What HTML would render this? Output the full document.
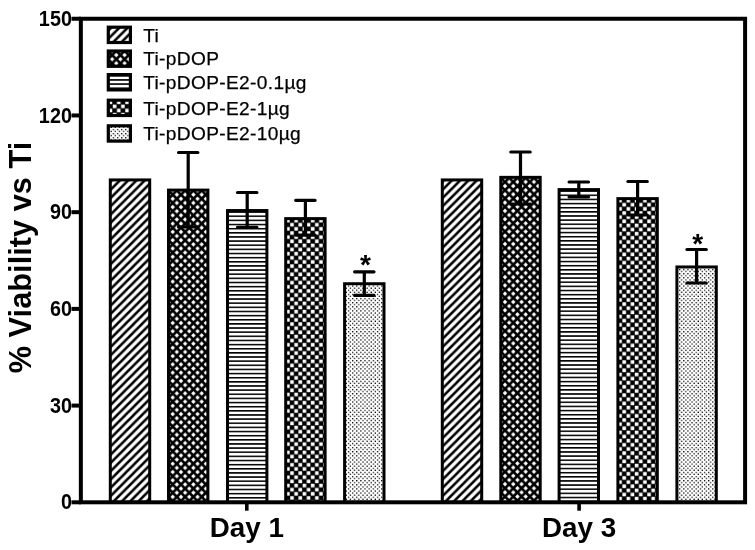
<!DOCTYPE html>
<html lang="en">
<head>
<meta charset="utf-8">
<title>% Viability vs Ti</title>
<style>
html,body{margin:0;padding:0;background:#fff;}
body{width:755px;height:550px;overflow:hidden;}
svg{display:block;}
text{font-family:"Liberation Sans",Arial,sans-serif;fill:#000;}
.b{font-weight:bold;}
</style>
</head>
<body>
<svg width="755" height="550" viewBox="0 0 755 550">
<defs>
<pattern id="b0" width="8.28" height="8.28" patternUnits="userSpaceOnUse" x="108.8" y="191.53"><rect width="8.28" height="8.28" fill="#fff"/><path d="M-8.28,8.28 L8.28,-8.28 M0,8.28 L8.28,0 M0,16.56 L16.56,0" stroke="#000" stroke-width="2.55" stroke-linecap="square"/></pattern>
<pattern id="b1" width="8.28" height="8.28" patternUnits="userSpaceOnUse" x="172.7" y="198.79"><rect width="8.28" height="8.28" fill="#000"/><path d="M4.14,1.94 L6.34,4.14 L4.14,6.34 L1.94,4.14 Z M0,-2.2 L2.2,0 L0,2.2 L-2.2,0 Z M8.28,-2.2 L10.48,0 L8.28,2.2 L6.08,0 Z M0,6.08 L2.2,8.28 L0,10.48 L-2.2,8.28 Z M8.28,6.08 L10.48,8.28 L8.28,10.48 L6.08,8.28 Z " fill="#fff"/></pattern>
<pattern id="b2" width="8.28" height="4.14" patternUnits="userSpaceOnUse" x="226" y="215.46"><rect width="8.28" height="4.14" fill="#fff"/><rect width="8.28" height="1.55" fill="#000"/></pattern>
<pattern id="b3" width="8.28" height="8.28" patternUnits="userSpaceOnUse" x="289.94" y="222.66"><rect width="8.28" height="8.28" fill="#000"/><rect x="0.26" y="0.26" width="3.6" height="3.6" fill="#fff"/><rect x="4.4" y="4.4" width="3.6" height="3.6" fill="#fff"/></pattern>
<pattern id="b4" width="4.14" height="4.14" patternUnits="userSpaceOnUse" x="0.08" y="3.96"><rect width="4.14" height="4.14" fill="#fff"/><rect x="0" y="0" width="1.25" height="1.25" fill="#000"/><rect x="2.07" y="2.07" width="1.25" height="1.25" fill="#000"/></pattern>
<pattern id="b5" width="8.28" height="8.28" patternUnits="userSpaceOnUse" x="440.8" y="191.53"><rect width="8.28" height="8.28" fill="#fff"/><path d="M-8.28,8.28 L8.28,-8.28 M0,8.28 L8.28,0 M0,16.56 L16.56,0" stroke="#000" stroke-width="2.55" stroke-linecap="square"/></pattern>
<pattern id="b6" width="8.28" height="8.28" patternUnits="userSpaceOnUse" x="505" y="186.05"><rect width="8.28" height="8.28" fill="#000"/><path d="M4.14,1.94 L6.34,4.14 L4.14,6.34 L1.94,4.14 Z M0,-2.2 L2.2,0 L0,2.2 L-2.2,0 Z M8.28,-2.2 L10.48,0 L8.28,2.2 L6.08,0 Z M0,6.08 L2.2,8.28 L0,10.48 L-2.2,8.28 Z M8.28,6.08 L10.48,8.28 L8.28,10.48 L6.08,8.28 Z " fill="#fff"/></pattern>
<pattern id="b7" width="8.28" height="4.14" patternUnits="userSpaceOnUse" x="557.6" y="194.5"><rect width="8.28" height="4.14" fill="#fff"/><rect width="8.28" height="1.55" fill="#000"/></pattern>
<pattern id="b8" width="8.28" height="8.28" patternUnits="userSpaceOnUse" x="622.14" y="202.67"><rect width="8.28" height="8.28" fill="#000"/><rect x="0.26" y="0.26" width="3.6" height="3.6" fill="#fff"/><rect x="4.4" y="4.4" width="3.6" height="3.6" fill="#fff"/></pattern>
<pattern id="b9" width="4.14" height="4.14" patternUnits="userSpaceOnUse" x="0.08" y="3.96"><rect width="4.14" height="4.14" fill="#fff"/><rect x="0" y="0" width="1.25" height="1.25" fill="#000"/><rect x="2.07" y="2.07" width="1.25" height="1.25" fill="#000"/></pattern>
<pattern id="l0" width="8.28" height="8.28" patternUnits="userSpaceOnUse" x="119" y="36.4"><rect width="8.28" height="8.28" fill="#fff"/><path d="M-8.28,8.28 L8.28,-8.28 M0,8.28 L8.28,0 M0,16.56 L16.56,0" stroke="#000" stroke-width="2.55" stroke-linecap="square"/></pattern>
<pattern id="l1" width="8.28" height="8.28" patternUnits="userSpaceOnUse" x="116.3" y="55.05"><rect width="8.28" height="8.28" fill="#000"/><path d="M4.14,1.94 L6.34,4.14 L4.14,6.34 L1.94,4.14 Z M0,-2.2 L2.2,0 L0,2.2 L-2.2,0 Z M8.28,-2.2 L10.48,0 L8.28,2.2 L6.08,0 Z M0,6.08 L2.2,8.28 L0,10.48 L-2.2,8.28 Z M8.28,6.08 L10.48,8.28 L8.28,10.48 L6.08,8.28 Z " fill="#fff"/></pattern>
<pattern id="l2" width="8.28" height="4.14" patternUnits="userSpaceOnUse" x="0" y="83.3"><rect width="8.28" height="4.14" fill="#fff"/><rect width="8.28" height="1.55" fill="#000"/></pattern>
<pattern id="l3" width="8.28" height="8.28" patternUnits="userSpaceOnUse" x="116.7" y="108.45"><rect width="8.28" height="8.28" fill="#000"/><rect x="0.26" y="0.26" width="3.6" height="3.6" fill="#fff"/><rect x="4.4" y="4.4" width="3.6" height="3.6" fill="#fff"/></pattern>
<pattern id="l4" width="4.14" height="4.14" patternUnits="userSpaceOnUse" x="121" y="133"><rect width="4.14" height="4.14" fill="#fff"/><rect x="0" y="0" width="1.25" height="1.25" fill="#000"/><rect x="2.07" y="2.07" width="1.25" height="1.25" fill="#000"/></pattern>
</defs>
<rect width="755" height="550" fill="#fff"/>
<rect x="110.3" y="179.93" width="39.4" height="322.37" fill="url(#b0)" stroke="#000" stroke-width="3.0"/>
<rect x="168.5" y="190.09" width="39.4" height="312.21" fill="url(#b1)" stroke="#000" stroke-width="3.0"/>
<path d="M188.2,152.5 L188.2,227.0 M178.5,152.5 L197.9,152.5 M178.5,227.0 L197.9,227.0" stroke="#000" stroke-width="3.2" stroke-linecap="round" fill="none"/>
<rect x="227.5" y="210.56" width="39.4" height="291.74" fill="url(#b2)" stroke="#000" stroke-width="3.0"/>
<path d="M247.2,192.5 L247.2,227.3 M237.5,192.5 L256.9,192.5 M237.5,227.3 L256.9,227.3" stroke="#000" stroke-width="3.2" stroke-linecap="round" fill="none"/>
<rect x="285.7" y="218.62" width="39.4" height="283.68" fill="url(#b3)" stroke="#000" stroke-width="3.0"/>
<path d="M305.4,200.3 L305.4,235.2 M295.7,200.3 L315.1,200.3 M295.7,235.2 L315.1,235.2" stroke="#000" stroke-width="3.2" stroke-linecap="round" fill="none"/>
<rect x="344.6" y="283.74" width="39.4" height="218.56" fill="url(#b4)" stroke="#000" stroke-width="3.0"/>
<path d="M364.3,271.8 L364.3,295.3 M354.6,271.8 L374,271.8 M354.6,295.3 L374,295.3" stroke="#000" stroke-width="3.2" stroke-linecap="round" fill="none"/>
<rect x="442.3" y="179.93" width="39.4" height="322.37" fill="url(#b5)" stroke="#000" stroke-width="3.0"/>
<rect x="500.8" y="177.35" width="39.4" height="324.95" fill="url(#b6)" stroke="#000" stroke-width="3.0"/>
<path d="M520.5,152.0 L520.5,204.0 M510.8,152.0 L530.2,152.0 M510.8,204.0 L530.2,204.0" stroke="#000" stroke-width="3.2" stroke-linecap="round" fill="none"/>
<rect x="559.1" y="189.6" width="39.4" height="312.7" fill="url(#b7)" stroke="#000" stroke-width="3.0"/>
<path d="M578.8,182.0 L578.8,197.0 M569.1,182.0 L588.5,182.0 M569.1,197.0 L588.5,197.0" stroke="#000" stroke-width="3.2" stroke-linecap="round" fill="none"/>
<rect x="617.9" y="198.63" width="39.4" height="303.67" fill="url(#b8)" stroke="#000" stroke-width="3.0"/>
<path d="M637.6,181.5 L637.6,215.0 M627.9,181.5 L647.3,181.5 M627.9,215.0 L647.3,215.0" stroke="#000" stroke-width="3.2" stroke-linecap="round" fill="none"/>
<rect x="676.9" y="266.97" width="39.4" height="235.33" fill="url(#b9)" stroke="#000" stroke-width="3.0"/>
<path d="M696.6,249.5 L696.6,283.0 M686.9,249.5 L706.3,249.5 M686.9,283.0 L706.3,283.0" stroke="#000" stroke-width="3.2" stroke-linecap="round" fill="none"/>
<rect x="80.85" y="18.75" width="664.25" height="483.55" fill="none" stroke="#000" stroke-width="4"/>
<line x1="71.5" y1="502.3" x2="81" y2="502.3" stroke="#000" stroke-width="4"/>
<text class="b" transform="translate(71.9,509.4) scale(1,1.08)" font-size="19.8" text-anchor="end">0</text>
<line x1="71.5" y1="405.59" x2="81" y2="405.59" stroke="#000" stroke-width="4"/>
<text class="b" transform="translate(71.9,412.69) scale(1,1.08)" font-size="19.8" text-anchor="end">30</text>
<line x1="71.5" y1="308.88" x2="81" y2="308.88" stroke="#000" stroke-width="4"/>
<text class="b" transform="translate(71.9,315.98) scale(1,1.08)" font-size="19.8" text-anchor="end">60</text>
<line x1="71.5" y1="212.17" x2="81" y2="212.17" stroke="#000" stroke-width="4"/>
<text class="b" transform="translate(71.9,219.27) scale(1,1.08)" font-size="19.8" text-anchor="end">90</text>
<line x1="71.5" y1="115.46" x2="81" y2="115.46" stroke="#000" stroke-width="4"/>
<text class="b" transform="translate(71.9,122.56) scale(1,1.08)" font-size="19.8" text-anchor="end">120</text>
<line x1="71.5" y1="18.75" x2="81" y2="18.75" stroke="#000" stroke-width="4"/>
<text class="b" transform="translate(71.9,25.85) scale(1,1.08)" font-size="19.8" text-anchor="end">150</text>
<line x1="246.8" y1="502.3" x2="246.8" y2="510.7" stroke="#000" stroke-width="3.6"/>
<text class="b" x="246.8" y="537.2" font-size="27.8" text-anchor="middle">Day 1</text>
<line x1="579.1" y1="502.3" x2="579.1" y2="510.7" stroke="#000" stroke-width="3.6"/>
<text class="b" x="579.1" y="537.2" font-size="27.8" text-anchor="middle">Day 3</text>
<text class="b" transform="translate(31.4,257.5) rotate(-90)" font-size="30.8" text-anchor="middle">% Viability vs Ti</text>
<text class="b" x="365.4" y="274.0" font-size="28" text-anchor="middle">*</text>
<text class="b" x="697.8" y="253.1" font-size="28" text-anchor="middle">*</text>
<rect x="108.3" y="27.2" width="22.1" height="15.3" fill="url(#l0)" stroke="#000" stroke-width="3.2"/>
<text x="143.2" y="41.5" font-size="19.1" letter-spacing="0.36" stroke="#000" stroke-width="0.25">Ti</text>
<rect x="108.3" y="51" width="22.1" height="15.3" fill="url(#l1)" stroke="#000" stroke-width="3.2"/>
<text x="143.2" y="65.3" font-size="19.1" letter-spacing="0.36" stroke="#000" stroke-width="0.25">Ti-pDOP</text>
<rect x="108.3" y="74.6" width="22.1" height="15.3" fill="url(#l2)" stroke="#000" stroke-width="3.2"/>
<text x="143.2" y="88.9" font-size="19.1" letter-spacing="0.36" stroke="#000" stroke-width="0.25">Ti-pDOP-E2-0.1µg</text>
<rect x="108.3" y="100.2" width="22.1" height="15.3" fill="url(#l3)" stroke="#000" stroke-width="3.2"/>
<text x="143.2" y="114.5" font-size="19.1" letter-spacing="0.36" stroke="#000" stroke-width="0.25">Ti-pDOP-E2-1µg</text>
<rect x="108.3" y="125.8" width="22.1" height="15.3" fill="url(#l4)" stroke="#000" stroke-width="3.2"/>
<text x="143.2" y="140.1" font-size="19.1" letter-spacing="0.36" stroke="#000" stroke-width="0.25">Ti-pDOP-E2-10µg</text>
</svg>
</body>
</html>
